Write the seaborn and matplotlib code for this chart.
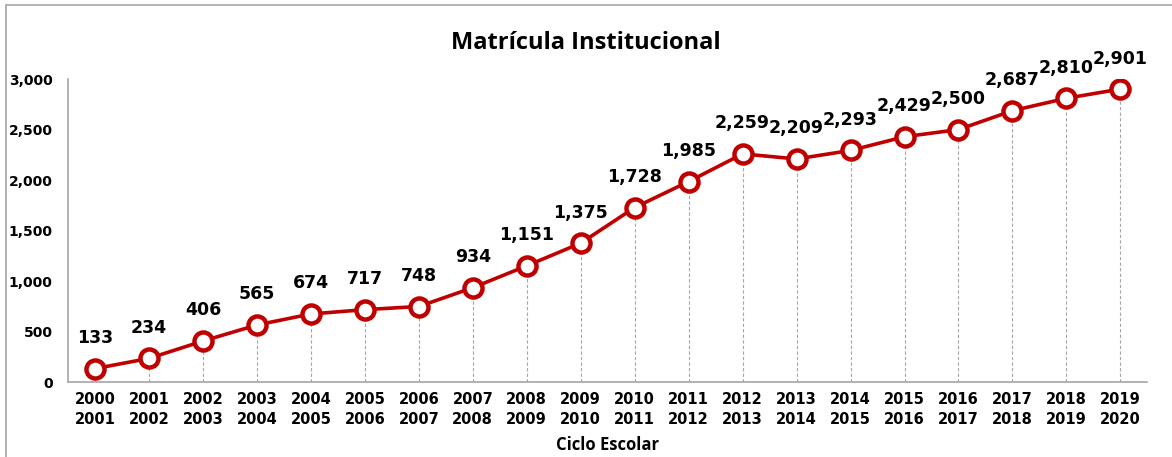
import matplotlib.pyplot as plt
import pandas as pd
import seaborn as sns
from matplotlib.lines import Line2D
from matplotlib.ticker import FuncFormatter, FixedLocator

# ciclos escolares y matricula
ciclos = [f"{y}\n{y + 1}" for y in range(2000, 2020)]
matricula = [133, 234, 406, 565, 674, 717, 748, 934, 1151, 1375,
             1728, 1985, 2259, 2209, 2293, 2429, 2500, 2687, 2810, 2901]

RED = "#C00000"
GRAY = "#A6A6A6"

df = pd.DataFrame({"ciclo": ciclos, "matricula": matricula})

sns.set_style("white")
plt.rcParams["font.family"] = ["DejaVu Sans"]
plt.rcParams["text.color"] = "black"
plt.rcParams["xtick.color"] = "black"
plt.rcParams["ytick.color"] = "black"
plt.rcParams["axes.labelcolor"] = "black"

fig = plt.figure(figsize=(11.72, 4.57), dpi=100)
ax = fig.add_axes([0.058, 0.164, 0.921, 0.663])

# dashed drop lines from each point to the axis
ax.vlines(range(len(df)), 0, df["matricula"], colors=GRAY, linestyles=(0, (3, 2)),
          linewidth=0.8, zorder=1)

sns.lineplot(data=df, x="ciclo", y="matricula", ax=ax, sort=False, color=RED,
             linewidth=2.6, marker="o", markersize=13, markerfacecolor="white",
             markeredgecolor=RED, markeredgewidth=3.2, zorder=3)

for i, v in enumerate(df["matricula"]):
    ax.annotate(f"{v:,}", (i, v), xytext=(0, 22), textcoords="offset points",
                ha="center", va="center", fontsize=12.5, fontweight="bold")

ax.set_xlim(-0.5, len(df) - 0.5)
ax.set_ylim(0, 3000)
ax.set_yticks(range(0, 3001, 500))
ax.yaxis.set_major_formatter(FuncFormatter(lambda v, p: f"{int(v):,}"))
ax.xaxis.set_minor_locator(FixedLocator([i - 0.5 for i in range(len(df) + 1)]))
ax.tick_params(axis="x", which="major", length=0, labelsize=10.5, pad=7)
ax.tick_params(axis="x", which="minor", length=6, width=1, color=GRAY, direction="out")
ax.tick_params(axis="y", length=5, width=1, color=GRAY, labelcolor="black",
               direction="out", labelsize=10, pad=6)
for lab in ax.get_xticklabels():
    lab.set_fontweight("bold")
    lab.set_linespacing(1.45)
for lab in ax.get_yticklabels():
    lab.set_fontweight("bold")

for s in ["top", "right"]:
    ax.spines[s].set_visible(False)
for s in ["left", "bottom"]:
    ax.spines[s].set_color(GRAY)
    ax.spines[s].set_linewidth(1.2)

ax.set_ylabel("")
ax.set_xlabel("Ciclo Escolar", fontsize=12, fontweight="bold", family="Open Sans",
              labelpad=6)
fig.text(0.5, 0.905, "Matrícula Institucional", ha="center", va="center",
         fontsize=17, fontweight="bold", family="Open Sans")

# chart frame (left and top edges visible)
fig.add_artist(Line2D([0.005, 0.005], [0, 0.989], color=GRAY, linewidth=1.2))
fig.add_artist(Line2D([0.005, 1.0], [0.989, 0.989], color=GRAY, linewidth=1.2))

fig.savefig("out.png", dpi=100)
plt.close()
